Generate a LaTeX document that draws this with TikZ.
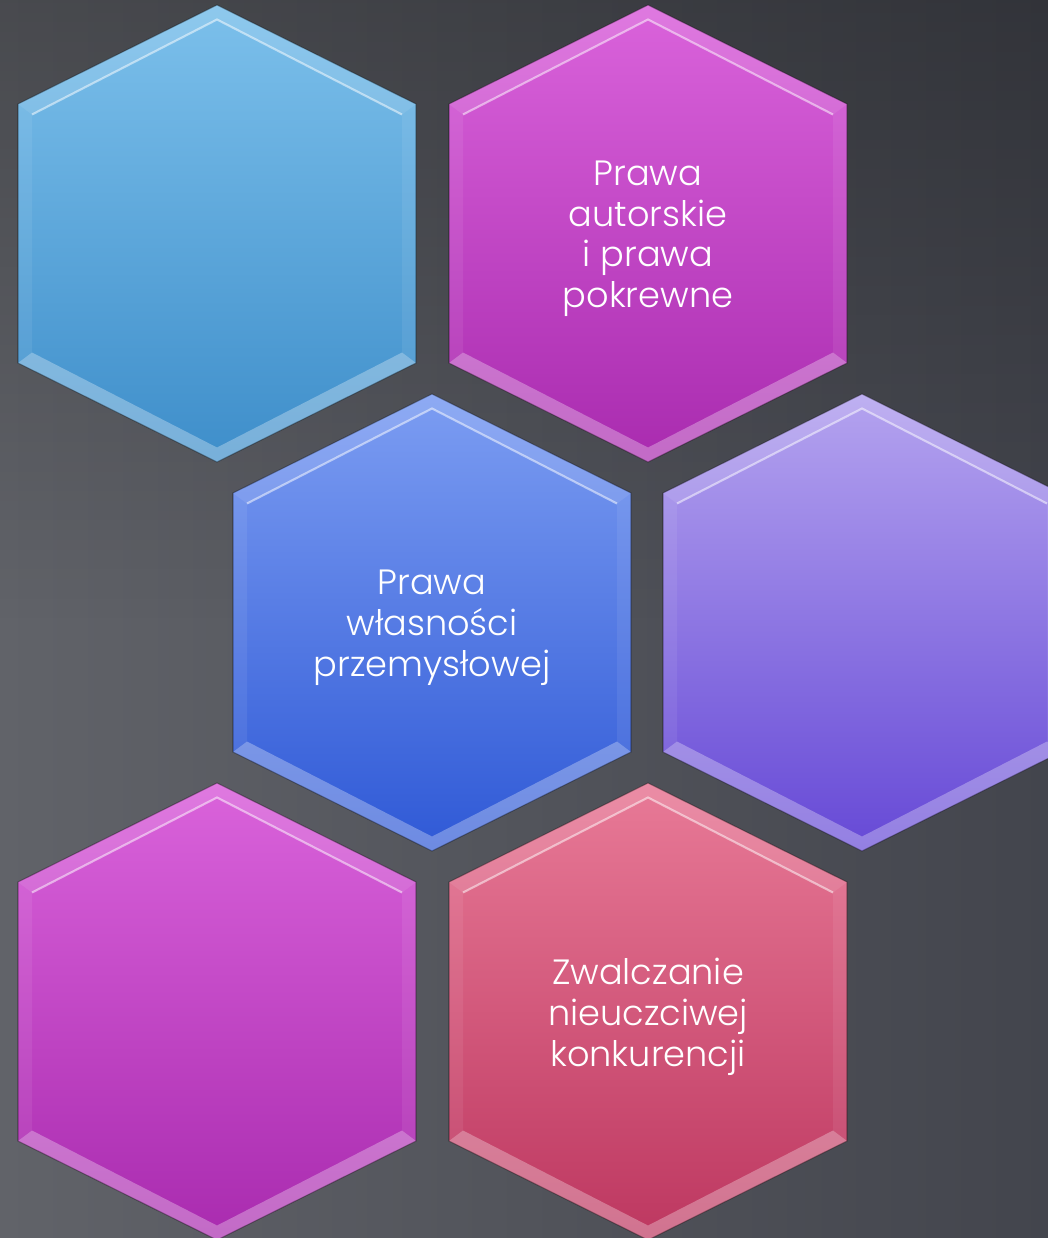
\documentclass[tikz,border=0pt]{standalone}
\usepackage{fontspec}
\setmainfont{Poppins}[UprightFont=* Light]
\usetikzlibrary{fadings}

\definecolor{bgleft}{HTML}{616369}
\definecolor{bgright}{HTML}{43454D}
\definecolor{skytop}{HTML}{7CC0EB}
\definecolor{skybottom}{HTML}{3E8ECA}
\definecolor{orchidtop}{HTML}{DA63DB}
\definecolor{orchidbottom}{HTML}{A92BAF}
\definecolor{royaltop}{HTML}{7C9DF2}
\definecolor{royalbottom}{HTML}{2F59D6}
\definecolor{lilactop}{HTML}{B4A3EF}
\definecolor{lilacbottom}{HTML}{6649D6}
\definecolor{rosetop}{HTML}{E87A97}
\definecolor{rosebottom}{HTML}{BD3760}

\tikzset{
  tile top/.store in=\tiletop,
  tile bottom/.store in=\tilebottom,
  tile/.pic={
    % body
    \shade[top color=\tiletop, bottom color=\tilebottom]
      (0,-228.5) -- (199,-129.5) -- (199,129.5) -- (0,228.5) -- (-199,129.5) -- (-199,-129.5) -- cycle;
    % bevel
    \fill[white, opacity=.14] (-199,-129.5) -- (0,-228.5) -- (199,-129.5) -- (185,-119) -- (0,-214) -- (-185,-119) -- cycle;
    \fill[white, opacity=.07] (199,-129.5) -- (199,129.5) -- (185,119) -- (185,-119) -- cycle;
    \fill[white, opacity=.07] (-199,-129.5) -- (-199,129.5) -- (-185,119) -- (-185,-119) -- cycle;
    \fill[white, opacity=.3] (-199,129.5) -- (0,228.5) -- (199,129.5) -- (185,119) -- (0,214) -- (-185,119) -- cycle;
    \draw[white, opacity=.5, line width=1.2pt] (-185,-119) -- (0,-214) -- (185,-119);
    \draw[black, opacity=.35, line width=.6pt]
      (0,-228.5) -- (199,-129.5) -- (199,129.5) -- (0,228.5) -- (-199,129.5) -- (-199,-129.5) -- cycle;
  },
  tile text/.style={text=white, align=center, inner sep=0pt,
    font=\fontsize{20}{23.2}\selectfont}
}

\begin{document}
\begin{tikzpicture}[x=0.02cm, y=-0.02cm]
\useasboundingbox (0,0) rectangle (1048,1238);
\clip (0,0) rectangle (1048,1238);
\shade[left color=bgleft, right color=bgright] (0,0) rectangle (1048,1238);
\fill[black, opacity=.25, path fading=south] (0,0) rectangle (1048,620);

\coordinate (h1) at (217,233.5);
\coordinate (h2) at (648,233.5);
\coordinate (h3) at (432,622.5);
\coordinate (h4) at (862,622.5);
\coordinate (h5) at (217,1011.5);
\coordinate (h6) at (648,1011.5);

\pic[tile top=skytop, tile bottom=skybottom] at (h1) {tile};
\pic[tile top=orchidtop, tile bottom=orchidbottom] at (h2) {tile};
\pic[tile top=royaltop, tile bottom=royalbottom] at (h3) {tile};
\pic[tile top=lilactop, tile bottom=lilacbottom] at (h4) {tile};
\pic[tile top=orchidtop, tile bottom=orchidbottom] at (h5) {tile};
\pic[tile top=rosetop, tile bottom=rosebottom] at (h6) {tile};

\node[tile text] (autorskie) at ([yshift=-3]h2) {Prawa\\autorskie\\i prawa\\pokrewne};
\node[tile text] (przemyslowe) at ([yshift=-3]h3) {Prawa\\własności\\przemysłowej};
\node[tile text] (konkurencja) at ([yshift=-3]h6) {Zwalczanie\\nieuczciwej\\konkurencji};
\end{tikzpicture}
\end{document}
